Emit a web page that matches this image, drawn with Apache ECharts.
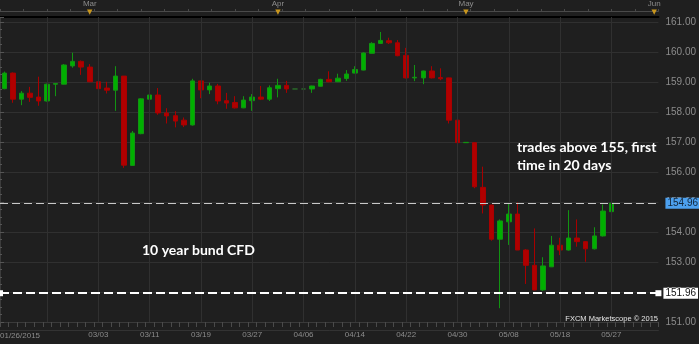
<!DOCTYPE html>
<html><head><meta charset="utf-8">
<script src="https://cdn.jsdelivr.net/npm/echarts@6/dist/echarts.min.js"></script>
<style>html,body{margin:0;padding:0;background:#1f1f1f}#c{width:699px;height:344px}</style>
</head><body><div id="c"></div>
<script>
const dates = ['02/16','02/17','02/18','02/19','02/20','02/23','02/24','02/25','02/26','02/27',
  '03/02','03/03','03/04','03/05','03/06','03/09','03/10','03/11','03/12','03/13',
  '03/16','03/17','03/18','03/19','03/20','03/23','03/24','03/25','03/26','03/27',
  '03/30','03/31','04/01','04/02','04/03','04/06','04/07','04/08','04/09','04/10',
  '04/13','04/14','04/15','04/16','04/17','04/20','04/21','04/22','04/23','04/24',
  '04/27','04/28','04/29','04/30','05/01','05/04','05/05','05/06','05/07','05/08',
  '05/11','05/12','05/13','05/14','05/15','05/18','05/19','05/20','05/21','05/22',
  '05/26','05/27','05/28','05/29','06/01','06/02','06/03'];
const opens = [158.78,159.30,158.43,158.63,158.50,158.37,158.93,158.93,159.54,159.69,
  159.50,159.01,158.80,158.73,159.20,156.22,157.28,158.43,158.57,157.97,
  157.88,157.73,157.57,159.04,158.74,158.87,158.38,158.32,158.14,158.38,
  158.50,158.43,158.78,158.89,158.77,158.77,158.77,158.86,159.09,159.01,
  159.12,159.30,159.40,159.96,160.29,160.38,160.31,159.89,159.14,159.14,
  159.37,159.15,159.14,157.73,156.98,156.98,155.49,154.90,153.76,154.34,
  154.60,153.40,152.89,152.07,152.84,153.56,153.40,153.80,153.68,153.44,
  153.87,154.68];
const closes = [159.30,158.43,158.63,158.49,158.37,158.93,158.95,159.57,159.69,159.50,
  159.01,158.78,158.73,159.20,156.23,157.30,158.44,158.57,157.97,157.87,
  157.70,157.57,159.04,158.74,158.87,158.37,158.30,158.14,158.40,158.50,
  158.43,158.81,158.89,158.77,158.77,158.77,158.87,159.09,159.01,159.13,
  159.27,159.42,159.97,160.29,160.39,160.31,159.88,159.14,159.16,159.37,
  159.14,159.11,157.73,156.98,156.99,155.51,154.90,153.76,154.37,154.60,
  153.40,152.89,152.07,152.87,153.56,153.40,153.80,153.68,153.44,153.87,
  154.70,154.96];
const lows = [158.76,158.31,158.23,158.34,158.21,158.35,158.53,158.92,159.48,159.24,
  159.00,158.76,158.62,158.04,156.14,156.21,157.26,158.13,157.91,157.62,
  157.49,157.50,157.55,158.46,158.60,158.26,158.11,158.12,158.13,158.04,
  158.40,158.37,158.49,158.64,158.77,158.77,158.64,158.85,159.00,159.00,
  159.04,159.29,159.39,159.95,160.28,160.27,159.86,159.12,159.03,158.93,
  159.12,159.06,157.62,156.40,156.97,155.46,154.62,153.71,151.46,153.57,
  153.40,152.27,152.06,152.04,152.83,153.23,153.38,153.51,153.01,153.42,
  153.85,154.42];
const highs = [159.35,159.32,158.70,158.84,159.18,158.95,158.97,159.60,159.98,159.72,
  159.60,159.23,159.01,159.53,159.20,157.37,158.46,158.77,158.80,158.13,
  158.03,157.82,159.11,159.05,158.98,158.94,158.64,158.53,158.53,158.60,
  158.87,158.89,159.11,159.04,158.77,158.77,158.88,159.11,159.36,159.28,
  159.40,159.53,159.99,160.33,160.67,160.48,160.40,160.14,159.57,159.38,
  159.53,159.46,159.15,157.84,157.00,156.99,156.18,154.91,154.42,154.96,
  154.99,153.43,154.12,153.16,153.87,153.81,154.73,154.42,153.70,154.16,
  154.92,155.09];
const dateLabelIdx = [11,17,23,29,35,41,47,53,59,65,71];
const gridLineIdx = [5,11,17,23,29,35,41,47,53,59,65,71];
const monthNames = ['Mar','Apr','May','Jun'];
const monthIdx = [10,32,54,76];
const levelValues = [154.96, 151.96];
const firstDateLabel = '01/26/2015';
const annotations = ['trades above 155, first\ntime in 20 days', '10 year bund CFD'];
const copyright = 'FXCM Marketscope \u00a9 2015';

const ohlc = opens.map((o, i) => [o, closes[i], lows[i], highs[i]]);

const chart = echarts.init(document.getElementById('c'));
chart.setOption({
  animation: false,
  backgroundColor: '#1f1f1f',
  grid: {left: 0, right: 40, top: 17, bottom: 22, containLabel: false},
  xAxis: [
    {type: 'category', data: dates, boundaryGap: true, position: 'bottom', gridIndex: 0,
     axisLine: {lineStyle: {color: '#3a3a3a'}},
     axisTick: {show: true, interval: 0, length: 5, lineStyle: {color: '#4a4a4a'}},
     axisLabel: {interval: (i) => dateLabelIdx.includes(i), color: '#8c8c8c', fontSize: 8,
                 fontFamily: 'Liberation Sans', margin: 9},
     splitLine: {show: false}},
    {type: 'category', data: dates, boundaryGap: true, position: 'top', gridIndex: 0,
     axisLine: {lineStyle: {color: '#000000', width: 2}},
     axisTick: {show: false},
     axisLabel: {interval: (i) => monthIdx.includes(i), margin: 1,
       formatter: (v, i) => '{m|' + monthNames[monthIdx.indexOf(i)] + '}\n{t|\u25BC}',
       rich: {m: {color: '#8c8c8c', fontSize: 8, fontFamily: 'Liberation Sans', lineHeight: 10},
              t: {color: '#c8961e', fontSize: 7, fontFamily: 'DejaVu Sans', lineHeight: 7}}},
     splitLine: {show: false}},
    {type: 'value', position: 'top', offset: 6, gridIndex: 0, min: 0, max: 28, interval: 1,
     axisLine: {show: true, lineStyle: {color: '#4a4a4a'}},
     axisTick: {show: true, length: 2, lineStyle: {color: '#4a4a4a'}},
     axisLabel: {show: false}, splitLine: {show: false}},
    {type: 'category', data: dates, position: 'bottom', offset: 8, gridIndex: 0,
     axisLine: {lineStyle: {color: '#333333'}}, axisTick: {show: false},
     axisLabel: {show: false}, splitLine: {show: false}}
  ],
  yAxis: {type: 'value', position: 'right', min: 151, max: 161.17, interval: 1,
    axisLine: {show: true, lineStyle: {color: '#3c3c3c'}},
    axisTick: {show: true, length: 4, lineStyle: {color: '#555555'}},
    minorTick: {show: true, splitNumber: 4, length: 2, lineStyle: {color: '#555555'}},
    axisLabel: {color: '#8c8c8c', fontSize: 10, fontFamily: 'Liberation Sans', margin: 7,
                showMaxLabel: false, formatter: (v) => v.toFixed(2)},
    splitLine: {lineStyle: {color: '#303030'}}},
  series: [
    {type: 'line', data: [], z: 1, silent: true,
     markLine: {silent: true, symbol: ['none', 'none'], animation: false,
       lineStyle: {color: '#303030', type: 'solid', width: 1}, label: {show: false},
       data: gridLineIdx.map(i => ({xAxis: dates[i]}))}},
    {type: 'candlestick', data: ohlc, z: 3, barWidth: 5,
     itemStyle: {color: '#00b000', color0: '#b00000', borderColor: '#129412',
                 borderColor0: '#a80000', borderColorDoji: '#2a6a2a', borderWidth: 1},
     markLine: {silent: true, symbol: ['none', 'none'], animation: false,
       data: [{yAxis: levelValues[0],
         lineStyle: {color: '#c8c8c8', type: [8, 4], width: 1},
         label: {show: true, position: 'end', distance: 7, formatter: levelValues[0].toFixed(2),
                 backgroundColor: '#4ca0ee', color: '#12263a', fontSize: 10,
                 fontFamily: 'Liberation Sans', padding: [1, 2, 0, 2]}}]}},
    {type: 'line', data: [], z: 5, silent: true,
     markLine: {silent: true, symbol: ['rect', 'rect'], symbolSize: 6, animation: false,
       data: [{yAxis: levelValues[1],
         lineStyle: {color: '#ffffff', type: [9, 4], width: 2},
         label: {show: true, position: 'end', distance: 5, formatter: levelValues[1].toFixed(2),
                 backgroundColor: '#ffffff', color: '#111111', fontSize: 10,
                 fontFamily: 'Liberation Sans', padding: [1, 2, 0, 2]}}],
       itemStyle: {color: '#ffffff'}}}
  ],
  graphic: [
    {type: 'text', left: 517, top: 138, silent: true, z: 100, zlevel: 1,
     style: {text: annotations[0], fill: '#ffffff', font: 'bold 14px Lato', lineHeight: 18}},
    {type: 'text', left: 142, top: 243, silent: true, z: 100, zlevel: 1,
     style: {text: annotations[1], fill: '#ffffff', font: 'bold 14px Lato'}},
    {type: 'text', right: 41, top: 315, silent: true, z: 100, zlevel: 1,
     style: {text: copyright, fill: '#e6e6e6', font: '7.5px "Liberation Sans"'}},
    {type: 'text', left: 0, top: 332, silent: true, z: 100,
     style: {text: firstDateLabel, fill: '#8c8c8c', font: '8px "Liberation Sans"'}}
  ]
});
</script></body></html>
